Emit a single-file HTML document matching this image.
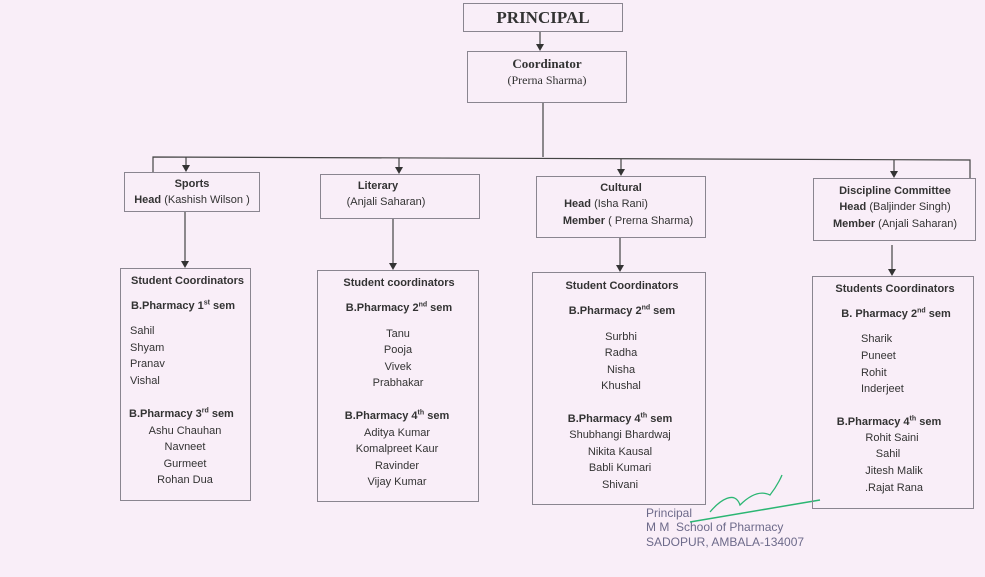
<!DOCTYPE html>
<html><head><meta charset="utf-8"><style>
html,body{margin:0;padding:0}
body{width:985px;height:577px;background:#f9eef8;position:relative;overflow:hidden;font-family:"Liberation Sans",sans-serif;color:#333;font-size:11px}
.b{position:absolute;border:1.3px solid #8a8590;box-sizing:border-box}
.t{position:absolute;white-space:nowrap;line-height:14px}
.c{transform:translateX(-50%)}
.bd{font-weight:bold}
sup{font-size:7px;line-height:0}
.serif{font-family:"Liberation Serif",serif}
</style></head><body>
<svg width="985" height="577" style="position:absolute;left:0;top:0">
<defs><marker id="a" markerWidth="8" markerHeight="8" refX="4" refY="7" orient="auto" markerUnits="userSpaceOnUse"><path d="M0,0 L8,0 L4,8z" fill="#333" transform="rotate(-90 4 4) translate(0 0)"/></marker></defs>
<g stroke="#444" stroke-width="1.2" fill="none">
<line x1="540" y1="32" x2="540" y2="45"/>
<line x1="543" y1="103" x2="543" y2="157"/>
<polyline points="153,172 153,157 970,160 970,178"/>
<line x1="186" y1="157" x2="186" y2="166"/>
<line x1="399" y1="158" x2="399" y2="168"/>
<line x1="621" y1="159" x2="621" y2="170"/>
<line x1="894" y1="160" x2="894" y2="172"/>
<line x1="185" y1="212" x2="185" y2="262"/>
<line x1="393" y1="219" x2="393" y2="264"/>
<line x1="620" y1="238" x2="620" y2="266"/>
<line x1="892" y1="245" x2="892" y2="270"/>
</g>
<g fill="#333">
<path d="M536,44 L544,44 L540,51z"/>
<path d="M182,165 L190,165 L186,172z"/>
<path d="M395,167 L403,167 L399,174z"/>
<path d="M617,169 L625,169 L621,176z"/>
<path d="M890,171 L898,171 L894,178z"/>
<path d="M181,261 L189,261 L185,268z"/>
<path d="M389,263 L397,263 L393,270z"/>
<path d="M616,265 L624,265 L620,272z"/>
<path d="M888,269 L896,269 L892,276z"/>
</g>
<path d="M690,522 L820,500" stroke="#2bb673" stroke-width="1.5" fill="none"/>
<path d="M710,512 C720,500 735,490 740,505 C750,495 760,490 770,495 C778,485 782,475 782,475" stroke="#2bb673" stroke-width="1.3" fill="none"/>
</svg>

<div class="b" style="left:463px;top:3px;width:160px;height:29px"></div>
<div class="t c serif bd" style="left:543px;top:9px;font-size:17px;line-height:18px;color:#333">PRINCIPAL</div>
<div class="b" style="left:467px;top:51px;width:160px;height:52px"></div>
<div class="t c serif bd" style="left:547px;top:57px;font-size:13px">Coordinator</div>
<div class="t c serif" style="left:547px;top:73px;font-size:12px">(Prerna Sharma)</div>

<div class="b" style="left:124px;top:172px;width:136px;height:40px"></div>
<div class="t c bd" style="left:192px;top:177px">Sports</div>
<div class="t c" style="left:192px;top:193px"><b>Head</b> (Kashish Wilson )</div>

<div class="b" style="left:320px;top:174px;width:160px;height:45px"></div>
<div class="t c bd" style="left:378px;top:179px">Literary</div>
<div class="t c" style="left:386px;top:195px">(Anjali Saharan)</div>

<div class="b" style="left:536px;top:176px;width:170px;height:62px"></div>
<div class="t c bd" style="left:621px;top:181px">Cultural</div>
<div class="t c" style="left:606px;top:197px"><b>Head</b> (Isha Rani)</div>
<div class="t c" style="left:628px;top:214px"><b>Member</b> ( Prerna Sharma)</div>

<div class="b" style="left:813px;top:178px;width:163px;height:63px"></div>
<div class="t c bd" style="left:895px;top:184px">Discipline Committee</div>
<div class="t c" style="left:895px;top:200px"><b>Head</b> (Baljinder Singh)</div>
<div class="t c" style="left:895px;top:217px"><b>Member</b> (Anjali Saharan)</div>

<!-- Sports SC -->
<div class="b" style="left:120px;top:268px;width:131px;height:233px"></div>
<div class="t bd" style="left:131px;top:274px">Student Coordinators</div>
<div class="t bd" style="left:131px;top:299px">B.Pharmacy 1<sup>st</sup> sem</div>
<div class="t" style="left:130px;top:324px">Sahil</div>
<div class="t" style="left:130px;top:341px">Shyam</div>
<div class="t" style="left:130px;top:357px">Pranav</div>
<div class="t" style="left:130px;top:374px">Vishal</div>
<div class="t bd" style="left:129px;top:407px">B.Pharmacy 3<sup>rd</sup> sem</div>
<div class="t c" style="left:185px;top:424px">Ashu Chauhan</div>
<div class="t c" style="left:185px;top:440px">Navneet</div>
<div class="t c" style="left:185px;top:457px">Gurmeet</div>
<div class="t c" style="left:185px;top:473px">Rohan Dua</div>

<!-- Literary SC -->
<div class="b" style="left:317px;top:270px;width:162px;height:232px"></div>
<div class="t c bd" style="left:399px;top:276px">Student coordinators</div>
<div class="t c bd" style="left:399px;top:301px">B.Pharmacy 2<sup>nd</sup> sem</div>
<div class="t c" style="left:398px;top:327px">Tanu</div>
<div class="t c" style="left:398px;top:343px">Pooja</div>
<div class="t c" style="left:398px;top:360px">Vivek</div>
<div class="t c" style="left:398px;top:376px">Prabhakar</div>
<div class="t c bd" style="left:397px;top:409px">B.Pharmacy 4<sup>th</sup> sem</div>
<div class="t c" style="left:397px;top:426px">Aditya Kumar</div>
<div class="t c" style="left:397px;top:442px">Komalpreet Kaur</div>
<div class="t c" style="left:397px;top:459px">Ravinder</div>
<div class="t c" style="left:397px;top:475px">Vijay Kumar</div>

<!-- Cultural SC -->
<div class="b" style="left:532px;top:272px;width:174px;height:233px"></div>
<div class="t c bd" style="left:622px;top:279px">Student Coordinators</div>
<div class="t c bd" style="left:622px;top:304px">B.Pharmacy 2<sup>nd</sup> sem</div>
<div class="t c" style="left:621px;top:330px">Surbhi</div>
<div class="t c" style="left:621px;top:346px">Radha</div>
<div class="t c" style="left:621px;top:363px">Nisha</div>
<div class="t c" style="left:621px;top:379px">Khushal</div>
<div class="t c bd" style="left:620px;top:412px">B.Pharmacy 4<sup>th</sup> sem</div>
<div class="t c" style="left:620px;top:428px">Shubhangi Bhardwaj</div>
<div class="t c" style="left:620px;top:445px">Nikita Kausal</div>
<div class="t c" style="left:620px;top:461px">Babli Kumari</div>
<div class="t c" style="left:620px;top:478px">Shivani</div>

<!-- Discipline SC -->
<div class="b" style="left:812px;top:276px;width:162px;height:233px"></div>
<div class="t c bd" style="left:895px;top:282px">Students Coordinators</div>
<div class="t c bd" style="left:896px;top:307px">B. Pharmacy 2<sup>nd</sup> sem</div>
<div class="t" style="left:861px;top:332px">Sharik</div>
<div class="t" style="left:861px;top:349px">Puneet</div>
<div class="t" style="left:861px;top:366px">Rohit</div>
<div class="t" style="left:861px;top:382px">Inderjeet</div>
<div class="t c bd" style="left:889px;top:415px">B.Pharmacy 4<sup>th</sup> sem</div>
<div class="t c" style="left:892px;top:431px">Rohit Saini</div>
<div class="t c" style="left:888px;top:447px">Sahil</div>
<div class="t c" style="left:894px;top:464px">Jitesh Malik</div>
<div class="t c" style="left:894px;top:481px">.Rajat Rana</div>

<div class="t" style="left:646px;top:506px;color:#6d6a8a;font-size:12px">Principal</div>
<div class="t" style="left:646px;top:520px;color:#6d6a8a;font-size:12px">M M&nbsp; School of Pharmacy</div>
<div class="t" style="left:646px;top:535px;color:#6d6a8a;font-size:12px">SADOPUR, AMBALA-134007</div>
</body></html>
